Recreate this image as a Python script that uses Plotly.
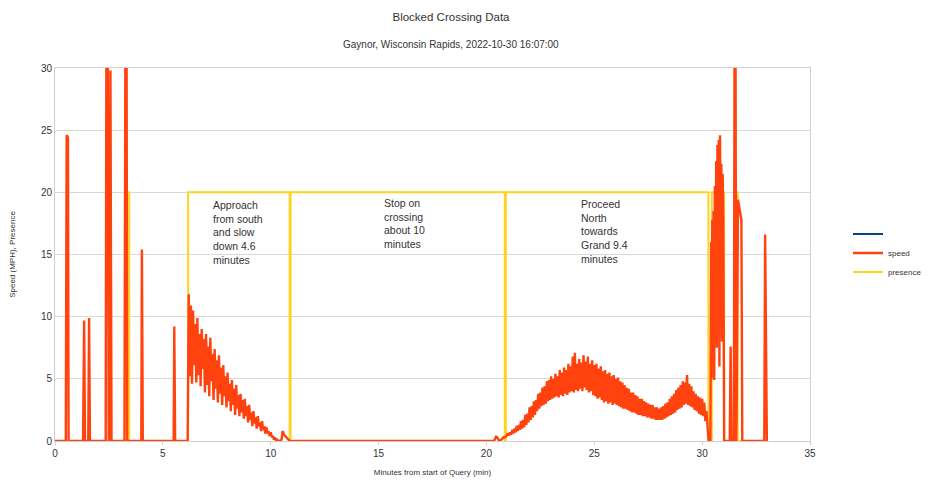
import plotly.graph_objects as go

# ---------------- data ----------------
title_text = "Blocked Crossing Data"
subtitle_text = "Gaynor, Wisconsin Rapids, 2022-10-30 16:07:00"
x_title = "Minutes from start of Query (min)"
y_title = "Speed (MPH), Presence"
x_ticks = [0, 5, 10, 15, 20, 25, 30, 35]
y_ticks = [0, 5, 10, 15, 20, 25, 30]

# isolated speed spikes before the approach (minutes, mph)
early_t = [0.00, 0.50, 0.54, 0.60, 0.63, 1.30, 1.35, 1.39, 1.54, 1.58, 1.62,
           2.35, 2.38, 2.45, 2.49, 2.54, 2.57, 2.62, 3.22, 3.26, 3.32, 3.35,
           4.00, 4.03, 4.07, 5.50, 5.53, 5.57, 6.15]
early_v = [0, 0, 24.6, 24.4, 0, 0, 9.7, 0, 0, 9.9, 0,
           0, 30, 30, 0, 0, 29.8, 0, 0, 30, 30, 0,
           0, 15.4, 0, 0, 9.2, 0, 0]

# approach and slow down: samples every 0.05 min starting at 6.20 min
approach_start = 6.20
approach_step = 0.05
approach_v = [11.8, 5.2, 10.9, 4.6, 10.5, 6.1, 9.4, 4.7, 9.9, 5.3,
              8.6, 4.4, 9.0, 5.8, 8.2, 3.9, 8.6, 4.5, 7.6, 3.6,
              8.3, 4.8, 7.0, 3.3, 7.4, 4.2, 6.5, 3.1, 6.9, 3.8,
              5.9, 2.9, 6.1, 3.6, 5.2, 2.7, 5.5, 3.2, 4.6, 2.4,
              4.9, 2.9, 4.2, 2.1, 4.5, 2.6, 3.7, 2.0, 3.8, 2.3,
              3.3, 1.8, 3.4, 2.0, 2.8, 1.5, 2.9, 1.7, 2.3, 1.2,
              2.4, 1.4, 1.9, 1.0, 2.0, 1.2, 1.5, 0.8, 1.6, 0.9,
              1.2, 0.6, 1.1, 0.6, 0.8, 0.4, 0.7, 0.3, 0.4, 0.1,
              0.3, 0.0, 0.1, 0.0]

# stopped on the crossing (minutes, mph)
stop_t = [10.40, 10.50, 10.55, 10.62, 10.70, 10.80, 10.88, 20.35, 20.45,
          20.50, 20.55, 20.62, 20.72, 20.80, 20.86]
stop_v = [0, 0.1, 0.8, 0.5, 0.35, 0.1, 0, 0, 0.35,
          0.3, 0.1, 0.0, 0.2, 0.3, 0.3]

# proceed north: samples every 0.05 min starting at 20.90 min
proceed_start = 20.90
proceed_step = 0.05
proceed_v = [0.35, 0.45, 0.62, 0.45, 0.7, 0.5, 0.9, 0.6, 1.0, 0.7,
             1.2, 0.8, 1.3, 0.9, 1.6, 1.0, 1.7, 1.1, 2.1, 1.3,
             2.2, 1.5, 2.7, 1.7, 2.8, 1.9, 3.2, 2.1, 3.3, 2.4,
             3.8, 2.6, 3.9, 2.8, 4.3, 2.9, 4.4, 3.0, 4.8, 3.2,
             4.9, 3.3, 5.2, 3.4, 5.0, 3.5, 5.4, 3.6, 5.2, 3.5,
             5.7, 3.7, 5.5, 3.6, 5.9, 3.8, 5.7, 3.7, 6.2, 3.9,
             6.0, 4.0, 6.8, 3.9, 7.1, 4.1, 6.2, 4.0, 6.6, 4.2,
             6.3, 4.0, 6.9, 4.3, 6.4, 4.1, 6.8, 3.9, 6.2, 4.0,
             6.5, 3.7, 6.1, 3.6, 6.2, 3.4, 5.8, 3.5, 6.0, 3.3,
             5.6, 3.1, 5.7, 3.2, 5.4, 3.0, 5.5, 3.1, 5.2, 2.9,
             5.3, 3.0, 5.0, 2.9, 5.1, 2.8, 4.8, 2.7, 4.7, 2.6,
             4.5, 2.6, 4.3, 2.5, 4.2, 2.4, 3.9, 2.3, 3.9, 2.3,
             3.7, 2.2, 3.6, 2.1, 3.4, 2.1, 3.4, 2.0, 3.2, 2.0,
             3.1, 1.9, 3.0, 1.9, 2.9, 1.8, 2.9, 1.8, 2.7, 1.7,
             2.7, 1.7, 2.6, 1.7, 2.7, 1.7, 2.8, 1.8, 3.0, 1.9,
             3.1, 2.0, 3.4, 2.1, 3.6, 2.2, 3.8, 2.3, 4.1, 2.5,
             4.3, 2.6, 4.5, 2.7, 4.8, 2.9, 4.7, 3.0, 5.3, 2.9,
             4.6, 2.8, 4.4, 2.7, 4.0, 2.5, 3.8, 2.4, 3.6, 2.2,
             3.5, 2.1, 3.4, 2.0, 3.1, 1.6, 2.4, 0.8]

# leaving the crossing (minutes, mph)
late_t = [30.30, 30.38, 30.42, 30.44, 30.47, 30.50, 30.53, 30.56, 30.59, 30.62,
          30.65, 30.68, 30.71, 30.74, 30.77, 30.80, 30.83, 30.86, 30.89, 30.92,
          30.95, 30.98, 31.02, 31.28, 31.32, 31.36, 31.47, 31.50, 31.55, 31.58,
          31.60, 31.66, 31.72, 31.78, 31.82, 31.86, 32.88, 32.92, 32.97, 33.00]
late_v = [0, 0, 16.0, 5.0, 17.8, 6.5, 18.5, 4.9, 20.5, 8.0,
          22.5, 7.5, 23.8, 9.5, 24.2, 6.0, 24.6, 10.5, 22.3, 8.0,
          21.5, 18.0, 0, 0, 7.6, 0, 0, 30, 30, 0,
          2.5, 19.4, 18.8, 18.0, 17.8, 0, 0, 16.6, 0, 0]

# presence (step trace)
presence_t = [0, 3.28, 3.28, 3.44, 3.44, 6.17, 6.17, 10.88, 10.88, 10.92, 10.92,
              20.85, 20.85, 20.90, 20.90, 30.29, 30.29, 30.45, 30.45, 31.02, 31.02,
              31.55, 31.55, 31.65, 31.65, 33.00]
presence_v = [0, 0, 20, 20, 0, 0, 20, 20, 0, 0, 20,
              20, 0, 0, 20, 20, 0, 0, 20, 20, 0,
              0, 20, 20, 0, 0]

notes_text = ["Approach<br>from south<br>and slow<br>down 4.6<br>minutes",
              "Stop on<br>crossing<br>about 10<br>minutes",
              "Proceed<br>North<br>towards<br>Grand 9.4<br>minutes"]
notes_t = [7.23, 15.16, 24.29]
notes_v = [19.6, 19.8, 19.7]

# ---------------- build series ----------------
approach_t = [approach_start + i * approach_step for i in range(len(approach_v))]
proceed_t = [proceed_start + i * proceed_step for i in range(len(proceed_v))]
speed_t = early_t + approach_t + stop_t + proceed_t + late_t
speed_v = early_v + approach_v + stop_v + proceed_v + late_v

BLUE = "#004586"
RED = "#ff420e"
YELLOW = "#ffd320"
FONT = "Liberation Sans"
TXT = "#333333"

# page body adds an 8px offset; figure sized so it ends at the window edge
W, H, OFF = 922, 477, 8
L, R, T, B = 47, 120, 60, 44
PW, PH = W - L - R, H - T - B

fig = go.Figure()
fig.add_trace(go.Scatter(x=[None], y=[None], mode="lines", name=" ",
                         line=dict(color=BLUE, width=2), showlegend=True,
                         legendrank=1))
fig.add_trace(go.Scatter(x=presence_t, y=presence_v, mode="lines", name="presence",
                         line=dict(color=YELLOW, width=2), legendrank=3))
fig.add_trace(go.Scatter(x=speed_t, y=speed_v, mode="lines", name="speed",
                         line=dict(color=RED, width=2.4), legendrank=2))

for txt, tx, ty in zip(notes_text, notes_t, notes_v):
    fig.add_annotation(x=tx, y=ty, xref="x", yref="y", text=txt, showarrow=False,
                       xanchor="left", yanchor="top", align="left",
                       font=dict(family=FONT, size=10.5, color=TXT))

fig.add_annotation(x=(451 - OFF - L) / PW, y=(H - B - (45 - OFF)) / PH,
                   xref="paper", yref="paper",
                   text=subtitle_text, showarrow=False, xanchor="center",
                   yanchor="middle", font=dict(family=FONT, size=10, color=TXT))

fig.update_layout(
    width=W, height=H,
    margin=dict(l=L, r=R, t=T, b=B, autoexpand=False),
    paper_bgcolor="white", plot_bgcolor="white",
    title=dict(text=title_text, x=(451 - OFF) / W, xref="container", xanchor="center",
               y=1 - 9 / H, yref="container", yanchor="middle",
               font=dict(family=FONT, size=11.5, color=TXT)),
    font=dict(family=FONT, size=10, color=TXT),
    legend=dict(x=(848 - OFF - L) / PW, y=(H - B - (253 - OFF)) / PH,
                xanchor="left", yanchor="middle",
                font=dict(family=FONT, size=8, color=TXT),
                itemwidth=30, bgcolor="rgba(0,0,0,0)", tracegroupgap=0),
    xaxis=dict(range=[0, 35], tickvals=x_ticks, showgrid=False, zeroline=False,
               showline=True, mirror=True, linecolor="#d0d0d0", linewidth=1,
               ticks="outside", ticklen=3, tickcolor="#d0d0d0",
               tickfont=dict(size=10, color=TXT),
               title=dict(text=x_title, font=dict(size=8, color=TXT), standoff=11)),
    yaxis=dict(range=[0, 30], tickvals=y_ticks, showgrid=True, gridcolor="#d9d9d9",
               zeroline=False, showline=True, mirror=True, linecolor="#d0d0d0",
               linewidth=1, ticks="", tickfont=dict(size=10, color=TXT),
               title=dict(text=y_title, font=dict(size=8, color=TXT), standoff=24)),
)

fig.write_html("out.html")
